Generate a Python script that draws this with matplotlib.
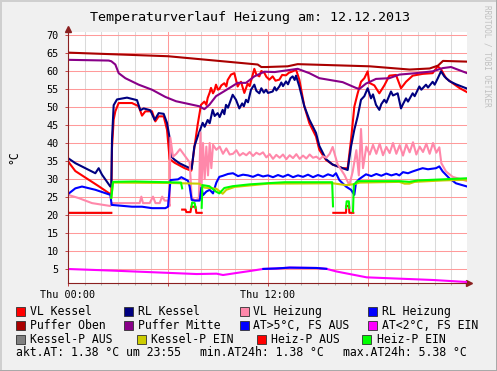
import numpy as np
import matplotlib

matplotlib.use("Agg")
import matplotlib.pyplot as plt
from matplotlib.patches import Rectangle
from matplotlib.lines import Line2D

nan = np.nan

TITLE = "Temperaturverlauf Heizung am: 12.12.2013"
Y_LABEL = "°C"
X_TICK_LABELS = ["Thu 00:00", "", "Thu 12:00", ""]

# hours since midnight / temperatures in °C
vl_kessel_t = [0, 0.44, 1.24, 1.84, 2.54, 2.6, 2.64, 2.74, 2.84, 3.04, 3.84, 4.24, 4.44, 4.64, 5.04,
               5.24, 5.44, 5.74, 5.94, 6.1, 6.4, 7.0, 7.4, 7.58, 7.78, 7.98, 8.18, 8.3, 8.38, 8.5, 8.58,
               8.7, 8.78, 8.88, 9.0, 9.08, 9.2, 9.38, 9.5, 9.58, 9.78, 9.98, 10.18, 10.28, 10.38, 10.58,
               10.78, 10.9, 11.18, 11.3, 11.48, 11.6, 11.78, 11.9, 12.08, 12.28, 12.45, 12.68, 12.85,
               13.08, 13.25, 13.48, 13.68, 13.88, 14.18, 14.48, 14.88, 15.08, 15.48,
               15.88, 16.48, 16.78, 16.98, 17.18, 17.38, 17.58, 17.78, 17.98, 18.08, 18.38, 18.68,
               18.98, 19.28, 19.68, 19.98, 20.28, 20.68, 21.28, 21.88, 22.18, 22.38, 22.68, 23.08,
               23.48, 23.95]
vl_kessel_v = [34.9, 32.2, 29.8, 28.0, 25.8, 26.0, 38.7, 46.5, 48.8, 51.1, 51.1, 50.2, 47.6, 48.8, 48.8,
               46.0, 47.4, 47.4, 43.7, 35.5, 34.5, 33.0, 32.3, 38.6, 45.1, 50.6, 51.5, 50.6, 52.5, 54.0, 55.3,
               53.8, 54.5, 56.2, 54.8, 55.0, 56.0, 56.6, 55.7, 57.5, 59.0, 59.4, 55.7, 56.5, 57.0, 53.9,
               56.5, 55.8, 60.6, 59.0, 58.5, 60.0, 59.5, 58.4, 57.6, 58.5, 57.3, 57.6, 58.9,
               58.8, 59.5, 59.9, 60.4, 57.6, 50.2, 45.5, 41.8, 38.1, 35.3,
               34.0, 33.0, 33.0, 40.8, 50.1, 53.8, 57.0, 58.0, 59.9, 56.7, 56.0, 53.8,
               56.0, 58.7, 58.9, 55.2, 57.0, 58.7, 59.2, 59.4, 61.3, 60.5, 58.0, 56.6,
               55.3, 54.1]

rl_kessel_t = [0, 0.44, 1.04, 1.64, 1.84, 2.04, 2.54, 2.6, 2.64, 2.74, 2.94, 3.54, 4.14, 4.34, 4.54,
               4.94, 5.2, 5.44, 5.74, 5.94, 6.08, 6.18, 6.38, 6.68, 7.08, 7.42, 7.58, 7.78, 8.08, 8.2,
               8.38, 8.5, 8.68, 8.8, 8.98, 9.1, 9.28, 9.38, 9.48, 9.6, 9.88, 10.08, 10.28, 10.45, 10.55,
               10.68, 10.8, 10.98, 11.18, 11.3, 11.48, 11.6, 11.75, 11.88, 12.0, 12.28, 12.4, 12.5,
               12.68, 12.8, 12.9, 13.08, 13.2, 13.35, 13.48, 13.6, 13.68, 13.88, 14.18, 14.48, 14.88,
               15.08, 15.48, 15.88, 16.48, 16.78, 16.98, 17.18, 17.38, 17.58, 17.78, 17.98, 18.18,
               18.3, 18.48, 18.68, 18.8, 18.98, 19.1, 19.38, 19.5, 19.78, 19.98, 20.1, 20.28, 20.4,
               20.68, 20.8, 21.08, 21.2, 21.48, 21.6, 21.88, 22.0, 22.18, 22.38, 22.58, 22.88, 23.28,
               23.95]
rl_kessel_v = [35.8, 34.4, 33.0, 31.6, 33.0, 31.2, 27.9, 28.0, 41.0, 50.5, 52.1, 52.6, 51.9, 49.1, 49.6,
               49.1, 46.4, 48.3, 48.1, 45.6, 41.9, 36.3, 35.4, 34.4, 33.5, 32.8, 39.0, 41.8, 45.6, 44.5,
               46.4, 45.5, 49.2, 47.5, 48.3, 47.2, 49.2, 48.0, 50.6, 49.8, 53.4, 52.0, 49.6, 51.0, 50.2,
               52.0, 51.3, 54.8, 56.2, 54.5, 53.8, 55.2, 54.0, 54.8, 53.9, 54.3, 55.5, 54.6,
               55.7, 56.8, 55.8, 57.1, 56.3, 58.0, 58.5, 57.5, 58.7, 55.7, 50.2, 46.5, 42.8,
               39.2, 35.5, 34.0, 33.0, 32.5, 39.0, 43.7, 47.4, 52.0, 53.0, 55.2, 52.4,
               53.5, 50.6, 49.2, 50.8, 52.0, 51.2, 54.3, 53.2, 53.8, 49.6, 50.8, 52.4, 51.5,
               53.8, 53.0, 55.7, 54.8, 56.2, 55.4, 57.0, 56.2, 57.9, 59.9, 58.5, 57.2, 56.3,
               55.1]

vl_heizung_t = [0, 0.64, 1.44, 2.54, 2.64, 4.3, 4.4, 4.5, 4.9, 5.1, 5.25, 5.5, 5.65, 5.8, 6.0, 6.1,
                6.14, 6.3, 6.5, 6.72, 7.0, 7.3, 7.42, 7.6, 7.85, 7.95, 8.0, 8.1, 8.2, 8.3, 8.4, 8.5,
                8.6, 8.7, 8.9, 9.1, 9.3, 9.5, 9.7, 9.9, 10.1, 10.3, 10.5, 10.7, 10.9, 11.1, 11.3,
                11.5, 11.7, 11.9, 12.1, 12.3, 12.5, 12.7, 12.9, 13.1, 13.3, 13.5, 13.7, 13.9, 14.1,
                14.3, 14.5, 14.7, 14.9, 15.1, 15.3, 15.5, 15.7, 15.88, 16.18, 16.58, 16.88, 17.08,
                17.3, 17.45, 17.58, 17.7, 17.9, 18.1, 18.3, 18.5, 18.7, 18.9, 19.1, 19.3, 19.5, 19.7,
                19.9, 20.1, 20.3, 20.5, 20.7, 20.9, 21.1, 21.3, 21.5, 21.7, 21.9, 22.1, 22.28, 22.4,
                22.68, 23.08, 23.95]
vl_heizung_v = [25.6, 24.7, 23.3, 22.5, 23.3, 23.3, 25.1, 23.3, 23.3, 25.1, 23.3, 23.3, 25.1, 24.0, 24.0, 22.5,
                41.5, 36.2, 37.0, 38.3, 36.5, 34.6, 25.0, 24.0, 24.5, 42.9, 26.0, 40.0, 30.0, 39.0, 31.0, 40.0,
                33.0, 39.5, 38.1, 39.0, 37.0, 38.5, 36.8, 37.0, 38.0, 36.5, 37.2, 36.6, 37.5, 36.4, 37.3,
                36.8, 37.4, 36.0, 36.9, 35.6, 36.7, 35.9, 36.8, 35.5, 36.6, 35.8, 36.9, 35.6, 36.5,
                35.7, 36.8, 35.9, 36.2, 35.5, 36.3, 35.9, 37.0, 38.9, 34.0, 31.2, 28.3, 32.0,
                38.0, 31.0, 43.9, 33.0, 39.0, 36.8, 39.5, 37.0, 39.8, 36.6, 38.9, 37.2, 40.0, 37.0,
                39.4, 36.5, 39.6, 37.4, 40.2, 36.8, 39.0, 37.5, 39.8, 37.0, 40.0, 37.3, 38.8, 34.4,
                32.1, 30.6, 29.4]

rl_heizung_t = [0, 0.44, 0.84, 1.64, 2.54, 2.62, 3.84, 4.44, 5.04, 5.84, 6.0, 6.15, 6.6, 6.8, 7.2, 7.3,
                7.42, 7.6, 7.9, 8.0, 8.1, 8.3, 8.5, 8.7, 8.9, 9.08, 9.3, 9.6, 9.9, 10.2, 10.5, 10.8,
                11.1, 11.4, 11.7, 12.0, 12.3, 12.6, 12.9, 13.2, 13.5, 13.8, 14.1, 14.4, 14.7, 15.0,
                15.3, 15.6, 15.9, 16.08, 16.28, 16.68, 16.98, 17.18, 17.28, 17.48, 17.88, 18.2, 18.5,
                18.8, 19.1, 19.4, 19.7, 19.88, 20.1, 20.4, 20.68, 21.0, 21.28, 21.6, 22.08, 22.28,
                22.48, 22.88, 23.28, 23.95]
rl_heizung_v = [25.8, 27.4, 27.9, 27.0, 25.6, 22.8, 22.3, 22.3, 21.9, 21.9, 22.3, 29.7, 29.9, 30.5, 29.5, 27.9,
                24.2, 24.0, 24.0, 27.6, 25.5, 26.5, 27.0, 26.0, 29.0, 30.6, 30.9, 31.4, 31.6, 30.8, 31.2, 31.0,
                30.6, 31.2, 30.7, 31.0, 30.5, 31.1, 30.6, 31.2, 30.5, 31.0, 30.6, 31.2, 30.5, 31.1,
                30.6, 31.3, 30.8, 31.6, 29.7, 27.9, 27.0, 25.6, 29.0, 30.0, 31.3, 30.8, 31.4,
                30.9, 31.5, 31.0, 31.4, 31.0, 31.9, 31.6, 32.1, 32.6, 33.0, 32.7, 33.0, 33.5,
                32.1, 30.2, 28.8, 27.9]

puffer_oben_t = [0, 6.0, 11.38, 11.6, 11.9, 13.18, 13.78, 18.1, 20.5, 21.7, 22.2, 22.5, 23.95]
puffer_oben_v = [65.1, 64.1, 61.8, 61.1, 61.1, 61.3, 61.9, 61.3, 60.4, 60.7, 61.5, 62.8, 62.6]

puffer_mitte_t = [0, 2.44, 2.6, 2.84, 3.04, 3.44, 4.24, 5.04, 5.84, 6.48, 7.88, 8.18, 8.48, 8.88, 9.38,
                  10.18, 10.68, 11.18, 11.78, 12.4, 13.78, 14.48, 15.08, 16.48, 17.28, 17.48, 17.88,
                  18.48, 19.28, 19.88, 20.88, 21.88, 22.48, 22.98, 23.95]
puffer_mitte_v = [63.1, 62.9, 62.7, 61.8, 59.4, 58.0, 56.2, 54.8, 52.8, 51.6, 50.2, 49.4, 50.6, 53.0, 54.4,
                  56.7, 56.7, 58.5, 59.8, 59.7, 60.6, 59.4, 58.0, 56.9, 55.3, 55.0, 56.5,
                  57.8, 58.0, 59.0, 59.4, 59.9, 60.8, 61.1, 59.4]

aussen_t = [0, 2.72, 5.72, 7.72, 8.92, 9.3, 10.12, 11.0, 11.72, 12.5, 13.3, 14.92, 15.5, 16.12, 17.92,
            19.92, 21.92, 23.95]
aussen_v = [5.0, 4.54, 3.98, 3.6, 3.7, 3.33, 3.9, 4.5, 5.02, 5.15, 5.38, 5.28, 5.05, 4.3, 2.68,
            2.31, 1.94, 1.38]

kessel_p_aus_t = [0, 2.6]
kessel_p_aus_v = [20.6, 20.6]
kessel_p_ein_t = [2.6, 2.7, 6.0, 7.88, 8.2, 8.9, 9.28, 9.5, 10.0, 12.0, 15.9, 16.68, 17.2, 17.5, 19.88,
                  20.2, 20.48, 20.8, 22.5, 23.95]
kessel_p_ein_v = [24.8, 29.0, 28.9, 28.7, 27.6, 27.3, 25.9, 27.0, 27.8, 28.7, 28.8, 28.3, 28.6, 29.0, 29.2,
                  28.7, 28.7, 29.2, 29.6, 29.8]

heiz_p_aus_t = [0, 2.6, nan, 6.85, 7.05, 7.1, 7.35, 7.4, 7.65, 7.7, 8.02, nan,
                15.92, 16.68, 16.7, 16.86, 16.88, 17.12]
heiz_p_aus_v = [20.6, 20.6, nan, 21.5, 21.5, 20.8, 20.8, 22.3, 22.3, 20.6, 20.6, nan,
                20.6, 20.6, 22.5, 22.5, 20.6, 20.6]
heiz_p_ein_t = [2.6, 2.7, 4.0, 6.0, 6.78, 6.85, nan, 7.4, 7.45, 7.6, 7.65, nan,
                8.02, 8.06, 8.48, 8.88, 9.08, 9.38, 9.88, 10.88, 11.88, 13.0, 15.85, 15.9, nan,
                16.68, 16.72, 16.85, 16.88, nan,
                17.1, 17.15, 17.4, 19.88, 20.48, 21.0, 22.5, 23.95]
heiz_p_ein_v = [24.8, 29.2, 29.3, 29.1, 29.0, 27.4, nan, 22.2, 23.5, 23.3, 22.0, nan,
                22.0, 28.3, 28.0, 26.5, 26.0, 27.5, 28.0, 28.5, 28.8, 29.1, 29.1, 22.4, nan,
                22.0, 23.8, 23.8, 22.0, nan,
                21.0, 28.5, 29.4, 29.4, 29.2, 29.6, 29.9, 30.2]

legend_rows = [
    [("VL Kessel", "#ff0000"), ("RL Kessel", "#000080"), ("VL Heizung", "#ff88aa"), ("RL Heizung", "#0000ff")],
    [("Puffer Oben", "#aa0000"), ("Puffer Mitte", "#880088"), ("AT>5°C, FS AUS", "#0000ff"),
     ("AT<2°C, FS EIN", "#ff00ff")],
    [("Kessel-P AUS", "#808080"), ("Kessel-P EIN", "#cccc00"), ("Heiz-P AUS", "#ff0000"),
     ("Heiz-P EIN", "#00ff00")],
]
stats_texts = ["akt.AT: 1.38 °C um 23:55", "min.AT24h: 1.38 °C", "max.AT24h: 5.38 °C"]

W, H = 497, 371
MONO = "DejaVu Sans Mono"


def fx(px):
    return px / W


def fy(py):
    return 1 - py / H


def main() -> None:
    plt.rcParams["font.family"] = MONO
    fig = plt.figure(figsize=(W / 100, H / 100), dpi=100, facecolor="#f0f0f0")

    # 3d-ish frame of the rrdtool canvas
    fig.add_artist(Line2D([0, 1], [fy(0.5)] * 2, transform=fig.transFigure, color="#cfcfcf", lw=1.4))
    fig.add_artist(Line2D([fx(0.5)] * 2, [0, 1], transform=fig.transFigure, color="#cfcfcf", lw=1.4))
    fig.add_artist(Line2D([0, 1], [fy(370.5)] * 2, transform=fig.transFigure, color="#a8a8a8", lw=1.4))
    fig.add_artist(Line2D([fx(496.5)] * 2, [0, 1], transform=fig.transFigure, color="#a8a8a8", lw=1.4))

    ax = fig.add_axes([fx(68), fy(283), fx(467) - fx(68), fy(32) - fy(283)])
    ax.set_facecolor("white")
    ax.set_xlim(0, 23.94)
    ax.set_ylim(1.11, 70.83)

    ax.set_xticks([0, 6, 12, 18])
    ax.set_xticklabels(X_TICK_LABELS)
    ax.set_xticks(np.arange(0, 24, 1), minor=True)
    ax.set_yticks(np.arange(5, 71, 5))
    ax.grid(which="major", color="#ff9a9a", lw=0.75, zorder=0)
    ax.grid(which="minor", axis="x", color="#dadada", lw=0.75, zorder=0)
    ax.set_axisbelow(True)
    ax.tick_params(which="major", length=2.2, width=0.7, color="#c04040", labelsize=7.3, pad=3)
    ax.tick_params(which="minor", length=1.5, width=0.7, color="#b0b0b0")
    ax.tick_params(axis="y", pad=4.5)

    for side in ("top", "right"):
        ax.spines[side].set_visible(False)
    for side in ("left", "bottom"):
        ax.spines[side].set_color("#8b2020")
        ax.spines[side].set_linewidth(0.8)
    ax.plot([1.005], [0], marker=">", ms=4, color="#8b2020", transform=ax.transAxes, clip_on=False)
    ax.plot([0], [1.012], marker="^", ms=4, color="#8b2020", transform=ax.transAxes, clip_on=False)

    lw = 1.5
    ax.plot(vl_kessel_t, vl_kessel_v, color="#ff0000", lw=lw)
    ax.plot(rl_kessel_t, rl_kessel_v, color="#000080", lw=lw)
    ax.plot(vl_heizung_t, vl_heizung_v, color="#ff88aa", lw=lw)
    ax.plot(rl_heizung_t, rl_heizung_v, color="#0000ff", lw=lw)
    ax.plot(puffer_oben_t, puffer_oben_v, color="#aa0000", lw=lw)
    ax.plot(puffer_mitte_t, puffer_mitte_v, color="#880088", lw=lw)

    at = np.array(aussen_v)
    ax.plot(aussen_t, at, color="#ff00ff", lw=lw)
    ax.plot(aussen_t, np.ma.masked_where(at <= 5.0, at), color="#0000ff", lw=lw)

    ax.plot(kessel_p_aus_t, kessel_p_aus_v, color="#808080", lw=lw)
    ax.plot(kessel_p_ein_t, kessel_p_ein_v, color="#cccc00", lw=lw)
    ax.plot(heiz_p_aus_t, heiz_p_aus_v, color="#ff0000", lw=lw)
    ax.plot(heiz_p_ein_t, heiz_p_ein_v, color="#00ff00", lw=lw)

    fig.text(fx(249.5), fy(17), TITLE, ha="center", va="center", fontsize=9.6, color="black")
    fig.text(fx(14), fy(157), Y_LABEL, ha="center", va="center", rotation=90, fontsize=8.3)
    fig.text(fx(487), fy(5), "RRDTOOL / TOBI OETIKER", ha="center", va="top", rotation=270,
             fontsize=5.6, color="#c0c0c0")

    # legend, laid out like the rrdtool one
    row_y = [311.5, 325.5, 339.5]
    box_x = [[16, 124, 240, 368], [16, 124, 240, 368], [16, 137, 257, 362]]
    text_x = [[30, 138, 253, 382], [30, 138, 253, 382], [30, 151, 271, 377]]
    for r, row in enumerate(legend_rows):
        for c, (label, color) in enumerate(row):
            fig.add_artist(Rectangle((fx(box_x[r][c]), fy(row_y[r] + 4.5)), 9 / W, 9 / H,
                                     transform=fig.transFigure, facecolor=color,
                                     edgecolor="#303030", lw=0.6))
            fig.text(fx(text_x[r][c]), fy(row_y[r]), label, ha="left", va="center", fontsize=8.3)
    for x, s in zip([16, 200, 343], stats_texts):
        fig.text(fx(x), fy(353), s, ha="left", va="center", fontsize=8.3)

    fig.savefig("out.png", dpi=100, facecolor=fig.get_facecolor())
    plt.close(fig)


if __name__ == "__main__":
    main()
